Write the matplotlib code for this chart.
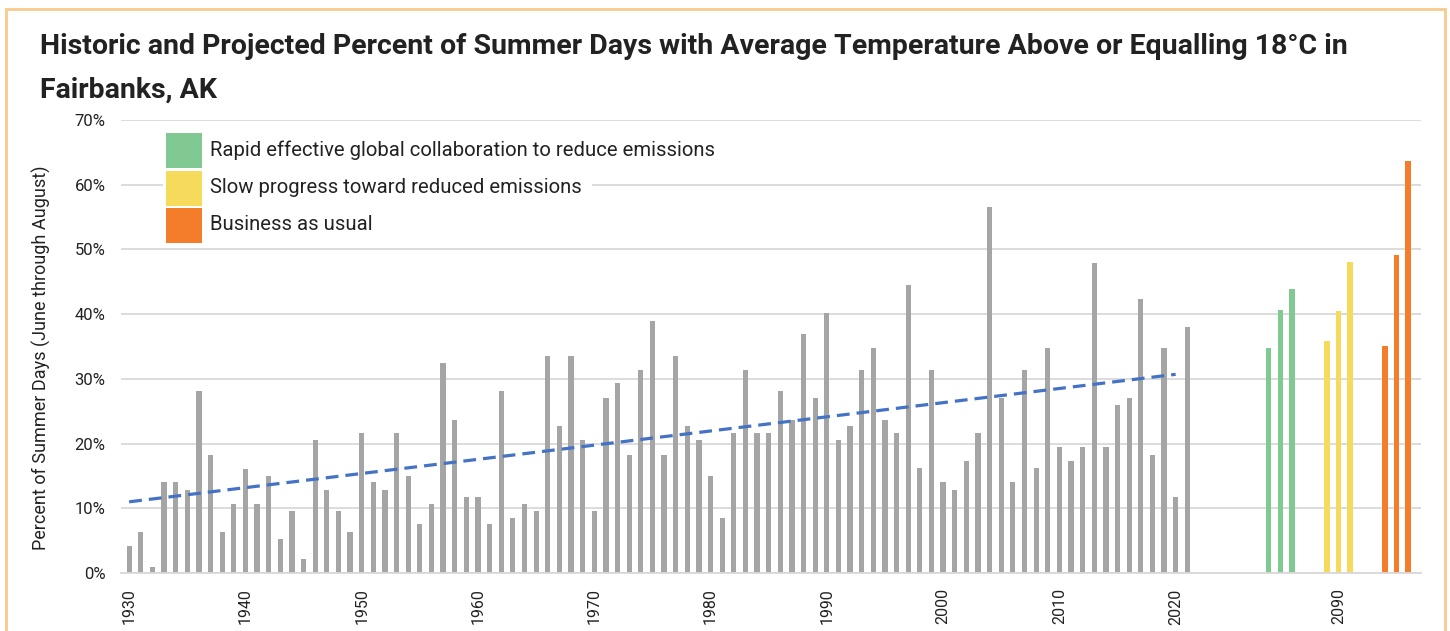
import numpy as np
import matplotlib
matplotlib.use('Agg')
import matplotlib.pyplot as plt
from matplotlib import font_manager
from matplotlib.patches import Rectangle

# historic share of summer days with mean temp >= 18C, Fairbanks (1930-2021)
years = list(range(1930, 2022))
hist_pct = [4.2, 6.4, 1.0, 14.0, 14.0, 12.9, 28.2, 18.3, 6.4, 10.7,
            16.1, 10.7, 15.0, 5.3, 9.6, 2.1, 20.5, 12.9, 9.6, 6.4,
            21.6, 14.0, 12.9, 21.6, 15.0, 7.5, 10.7, 32.5, 23.7, 11.8,
            11.8, 7.5, 28.2, 8.5, 10.7, 9.6, 33.6, 22.7, 33.6, 20.5,
            9.6, 27.0, 29.3, 18.3, 31.4, 39.0, 18.3, 33.6, 22.7, 20.5,
            15.0, 8.5, 21.6, 31.4, 21.6, 21.6, 28.2, 23.7, 36.9, 27.0,
            40.1, 20.5, 22.7, 31.4, 34.7, 23.7, 21.6, 44.5, 16.2, 31.4,
            14.0, 12.9, 17.3, 21.6, 56.5, 27.0, 14.0, 31.4, 16.2, 34.7,
            19.4, 17.3, 19.4, 47.9, 19.4, 25.9, 27.0, 42.3, 18.3, 34.7,
            11.8, 38.0]

# projections, three bars per scenario
rapid_pct = [34.8, 40.7, 43.9]
slow_pct = [35.9, 40.5, 48.1]
bau_pct = [35.1, 49.2, 63.6]
scenario_names = ["Rapid effective global collaboration to reduce emissions",
                  "Slow progress toward reduced emissions",
                  "Business as usual"]

# linear trend end points (as drawn)
trend_years = [1930, 2020]
trend_pct = [11.0, 30.7]

tick_labels = ['1930', '1940', '1950', '1960', '1970', '1980', '1990', '2000', '2010', '2020', '2090']

gray = '#A5A5A5'
colors = ['#80C993', '#F6DA5C', '#F47D2B']
grid_col = '#D9D9D9'

names = {f.name for f in font_manager.fontManager.ttflist}
title_font = 'Liberation Sans Narrow' if 'Liberation Sans Narrow' in names else 'Roboto'
plt.rcParams['font.family'] = ['Roboto', 'DejaVu Sans']

W, H = 1450, 631
fig = plt.figure(figsize=(W / 100, H / 100), dpi=100)
ax = fig.add_axes([121 / W, 1 - 573 / H, (1421 - 121) / W, (573 - 120) / H])

# category slots: history 0..91, then gaps and three scenario groups
x_hist = np.arange(len(years))
group_start = [98, 103, 108]
ax.bar(x_hist, hist_pct, width=0.45, color=gray, zorder=2)
for start, vals, c in zip(group_start, [rapid_pct, slow_pct, bau_pct], colors):
    ax.bar(start + np.arange(len(vals)), vals, width=0.47, color=c, zorder=2)

tx = [years.index(y) for y in trend_years]
ax.plot(tx, trend_pct, color='#4472C4', lw=2.3, ls=(0, (4, 2.2)), zorder=3)

ax.set_xlim(-0.7, 111.1)
ax.set_ylim(0, 70)
ax.set_yticks(np.arange(0, 71, 10))
ax.set_yticklabels([f'{v}%' for v in range(0, 71, 10)])
ax.yaxis.grid(True, color=grid_col, lw=1.3, zorder=0)
ax.set_axisbelow(True)
for s in ['top', 'right', 'left']:
    ax.spines[s].set_visible(False)
ax.spines['bottom'].set_color(grid_col)
ax.spines['bottom'].set_linewidth(1.3)
ax.tick_params(axis='both', length=0, colors='#222222')
ax.tick_params(axis='y', pad=11, labelsize=12)
ax.tick_params(axis='x', pad=11, labelsize=11.5)
ax.set_xticks(list(range(0, 91, 10)) + [104])
ax.set_xticklabels(tick_labels, rotation=90)

# legend box (white panel over the gridlines)
def px(x, y):
    return x / W, 1 - y / H

ax.add_patch(Rectangle(px(163, 246), (592 - 163) / W, (246 - 127) / H,
                       transform=fig.transFigure, facecolor='white',
                       edgecolor='none', zorder=4))
rows_y = [133, 170.5, 207.5]
for ry, c, name in zip(rows_y, colors, scenario_names):
    ax.add_patch(Rectangle(px(166, ry + 35), 36 / W, 35 / H,
                           transform=fig.transFigure, facecolor=c,
                           edgecolor='none', zorder=5))
    fig.text(*px(210, ry + 17), name, fontsize=14.6, color='#222222',
             va='center', ha='left', zorder=6)

fig.text(*px(41, 358), 'Percent of Summer Days (June through August)',
         rotation=90, fontsize=13, color='#222222', ha='center', va='center')

fig.text(*px(40, 54), 'Historic and Projected Percent of Summer Days with Average '
         'Temperature Above or Equalling 18°C in', fontsize=20.5, fontweight='bold',
         family=[title_font, 'DejaVu Sans'], color='#222222', va='baseline')
fig.text(*px(40, 98), 'Fairbanks, AK', fontsize=20.5, fontweight='bold',
         family=[title_font, 'DejaVu Sans'], color='#222222', va='baseline')

# outer frame
fig.patches.append(Rectangle(px(6, 640), (1445 - 6) / W, (640 - 9) / H,
                             transform=fig.transFigure, fill=False,
                             edgecolor='#F8C98D', lw=2))

fig.savefig('out.png', dpi=100)
